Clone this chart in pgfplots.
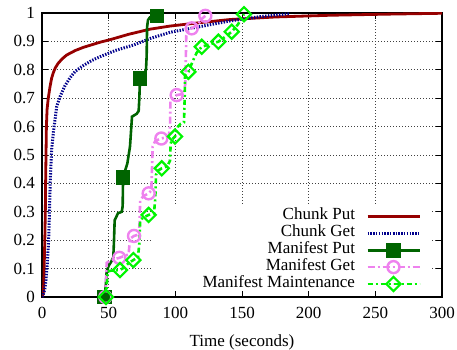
\documentclass[border=0pt]{standalone}
\usepackage{fontspec}
\setmainfont{Liberation Serif}
\usepackage{pgfplots}
\pgfplotsset{compat=1.18}
\definecolor{cput}{RGB}{150,0,0}
\definecolor{cget}{RGB}{0,0,140}
\definecolor{mput}{RGB}{0,100,0}
\definecolor{mget}{RGB}{238,130,238}
\definecolor{mmnt}{RGB}{0,245,0}
\begin{document}
\fontsize{17}{17}\selectfont
\begin{tikzpicture}
\begin{axis}[
  scale only axis, width=400pt, height=284pt,
  xmin=0, xmax=300, ymin=0, ymax=1,
  xtick={0,50,100,150,200,250,300},
  xticklabels={0,50,100,150,200,250,300},
  ytick={0,0.1,0.2,0.3,0.4,0.5,0.6,0.7,0.8,0.9,1},
  yticklabels={0,0.1,0.2,0.3,0.4,0.5,0.6,0.7,0.8,0.9,1},
  /pgf/number format/assume math mode=true,
  tick pos=both, tick align=inside, major tick length=6pt,
  tick style={black, line width=0.8pt},
  axis line style={black, line width=1.3pt},
  grid=major,
  grid style={black!75, line width=0.8pt, dash pattern=on 0.8pt off 2.2pt},
  xticklabel style={yshift=-4pt},
  yticklabel style={xshift=-1.3pt},
  xlabel={Time (seconds)},
  xlabel style={at={(rel axis cs:0.5,0)}, anchor=center, yshift=-45pt},
  legend plot pos=right,
  legend cell align=right,
  legend style={draw=none, fill=none, at={(rel axis cs:0.9475,0.016)}, anchor=south east,
    inner sep=0pt, outer sep=0pt, row sep=0pt, column sep=11pt,
    nodes={inner sep=0pt, text height=12pt, text depth=4.9pt}},
  legend image code/.code={\draw[#1, mark indices={2}] plot coordinates {(0pt,0pt) (26pt,0pt) (52pt,0pt)};},
]
\fill[white] (axis cs:83,0.022) rectangle (axis cs:291,0.325);

\addplot[cput, line width=2.8pt] coordinates {
(0,0) (0.5,0.005) (1,0.015) (1.3,0.05) (1.6,0.1) (2.1,0.2) (2.5,0.3) (2.7,0.4) (3,0.5) (3.3,0.6) (3.8,0.66) (4.7,0.7) (6,0.74) (7.2,0.77) (8.5,0.79) (10,0.807) (12,0.822) (15,0.838) (18.5,0.852) (25,0.868) (31,0.879) (43.5,0.897) (51,0.906) (65,0.925) (81,0.943) (96,0.954) (118.5,0.966) (141,0.977) (175,0.986) (216,0.992) (260,0.996) (300,0.999)
};
\addlegendentry{Chunk Put}

\addplot[cget, line width=3pt, dash pattern=on 1.4pt off 1.4pt] coordinates {
(0,0) (1,0.01) (2,0.025) (3,0.06) (4,0.12) (5,0.2) (5.6,0.3) (6.2,0.41) (7.25,0.52) (8.5,0.58) (9.75,0.623) (11,0.67) (13.5,0.705) (17,0.742) (21,0.772) (25,0.795) (31,0.815) (37,0.832) (43.5,0.846) (55,0.868) (68.5,0.887) (81,0.91) (96,0.932) (118.5,0.952) (141,0.972) (165,0.988) (186,0.998)
};
\addlegendentry{Chunk Get}

\addplot[mput, line width=2.6pt, mark=square*, mark size=6pt, mark indices={1,12,21,28}] coordinates {
(47,0) (48,0.05) (48.5,0.09) (50,0.11) (52,0.125) (53.5,0.14) (54,0.2) (54.5,0.27) (57,0.295) (59.8,0.30) (60.5,0.32) (60.8,0.42) (62,0.44) (64,0.47) (66,0.53) (67,0.6) (67.5,0.635) (71,0.645) (72.5,0.655) (73,0.70) (73.5,0.77) (76,0.78) (78,0.80) (78.5,0.85) (78.8,0.95) (79.5,0.975) (81,0.985) (86.3,0.99)
};
\addlegendentry{Manifest Put}

\addplot[mget, line width=2.6pt, dash pattern=on 7pt off 3pt on 2pt off 3pt, mark=o, mark size=6pt, mark options={solid, line width=2.4pt}, mark indices={1,6,11,16,21,26,31,34}] coordinates {
(47.5,0) (48,0.06) (48.5,0.12) (51,0.128) (54,0.133) (58,0.138) (62,0.145) (65,0.15) (65.5,0.18) (66,0.205) (69,0.215) (72.5,0.22) (73.2,0.26) (73.6,0.34) (76,0.355) (80,0.365) (82,0.375) (82.5,0.45) (83,0.53) (85,0.55) (89.5,0.558) (95,0.565) (96,0.6) (96.3,0.69) (98,0.70) (101,0.711) (106,0.715) (107.5,0.75) (108.2,0.92) (110,0.94) (112.3,0.946) (117,0.96) (120,0.98) (122.5,0.99)
};
\addlegendentry{Manifest Get}

\addplot[mmnt, line width=2.6pt, dash pattern=on 5pt off 3pt on 2pt off 3pt, mark=square, mark size=5pt, mark options={solid, rotate=45, line width=2.2pt}, mark indices={1,5,8,13,18,23,29,32,34,36,39}] coordinates {
(48,0) (48.7,0.05) (49.2,0.09) (52,0.093) (58.5,0.095) (62,0.105) (65,0.12) (68.5,0.13) (72,0.14) (73.2,0.2) (73.6,0.27) (76,0.28) (80,0.289) (84,0.295) (85,0.35) (85.5,0.43) (87,0.445) (89.8,0.453) (94,0.46) (96,0.48) (96.5,0.54) (97.5,0.555) (99.8,0.565) (102,0.6) (104,0.61) (106.5,0.615) (107,0.7) (107.3,0.78) (109.8,0.793) (113,0.83) (116,0.86) (119.8,0.881) (126,0.89) (132.3,0.899) (137,0.915) (142.3,0.934) (147,0.96) (150,0.985) (151.5,0.996)
};
\addlegendentry{Manifest Maintenance}
\end{axis}
\pgfresetboundingbox
\path[use as bounding box] (-42pt,-53pt) rectangle (415pt,297pt);
\end{tikzpicture}
\end{document}
